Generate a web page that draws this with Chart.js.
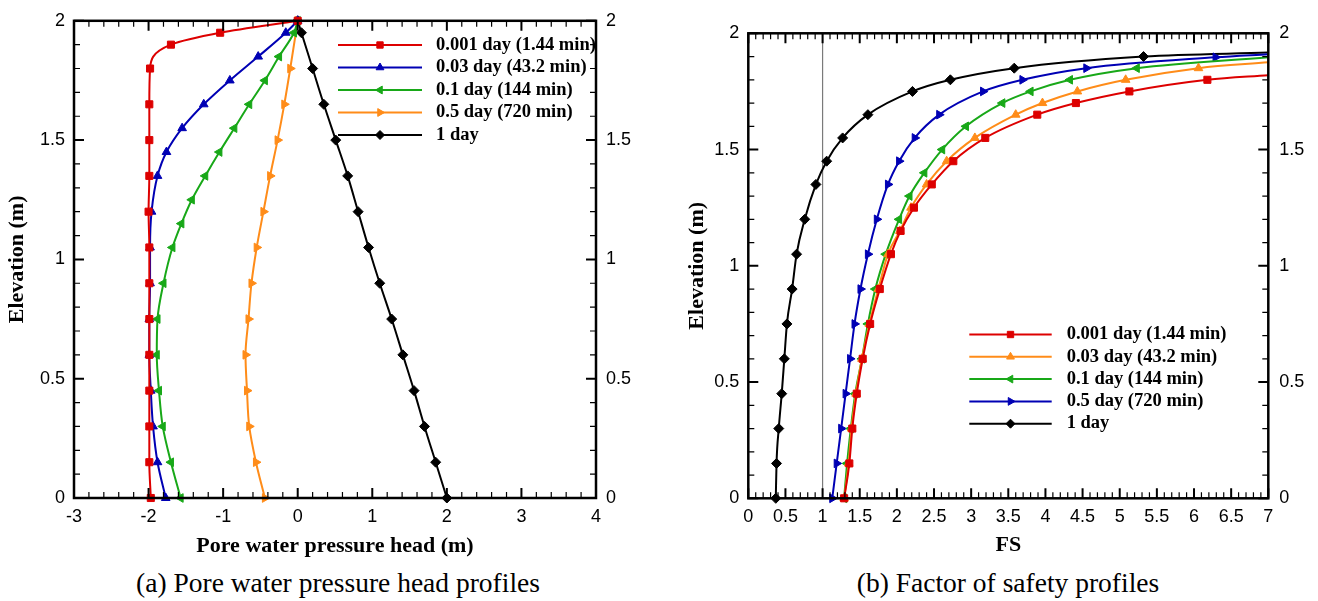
<!DOCTYPE html>
<html>
<head>
<meta charset="utf-8">
<script src="https://cdn.jsdelivr.net/npm/chart.js@4.4.1/dist/chart.umd.min.js"></script>
<style>
html, body { margin: 0; padding: 0; background: #fff; }
body { width: 1318px; height: 601px; position: relative; overflow: hidden; }
canvas { position: absolute; top: 0; }
#chartA { left: 0; }
#chartB { left: 660px; }
.caption { position: absolute; top: 566px; font: 27.5px 'Liberation Serif', 'Times New Roman', serif; text-align: center; line-height: 34px; color: #000; }
</style>
</head>
<body>
<canvas id="chartA" width="650" height="565"></canvas>
<canvas id="chartB" width="658" height="565"></canvas>
<div class="caption" style="left:0;width:676px">(a) Pore water pressure head profiles</div>
<div class="caption" style="left:700px;width:616px">(b) Factor of safety profiles</div>
<script>
// tick labels
var headTicks = [-3, -2, -1, 0, 1, 2, 3, 4];
var fsTicks = [0, 0.5, 1, 1.5, 2, 2.5, 3, 3.5, 4, 4.5, 5, 5.5, 6, 6.5, 7];
var elevTicks = [0, 0.5, 1, 1.5, 2];

var labels = ["0.001 day (1.44 min)", "0.03 day (43.2 min)", "0.1 day (144 min)", "0.5 day (720 min)", "1 day"];

// (a) pore water pressure head profiles
var elevA1 = [2.0, 1.95, 1.9, 1.8, 1.65, 1.5, 1.35, 1.2, 1.05, 0.9, 0.75, 0.6, 0.45, 0.3, 0.15, 0];
var headA1 = [0, -1.04, -1.70, -1.98, -1.99, -1.99, -1.99, -2.0, -1.99, -1.99, -1.99, -1.99, -1.99, -1.99, -1.99, -1.97];
var elevA2 = [2.0, 1.95, 1.85, 1.75, 1.65, 1.55, 1.45, 1.35, 1.2, 1.05, 0.9, 0.75, 0.6, 0.45, 0.3, 0.15, 0];
var headA2 = [0, -0.16, -0.53, -0.91, -1.26, -1.55, -1.76, -1.88, -1.96, -1.98, -1.98, -1.99, -1.99, -1.97, -1.94, -1.88, -1.77];
var elevA3 = [2.0, 1.95, 1.85, 1.75, 1.65, 1.55, 1.45, 1.35, 1.25, 1.15, 1.05, 0.9, 0.75, 0.6, 0.45, 0.3, 0.15, 0];
var headA3 = [0, -0.05, -0.25, -0.44, -0.65, -0.85, -1.05, -1.24, -1.42, -1.56, -1.68, -1.80, -1.88, -1.89, -1.86, -1.81, -1.70, -1.57];
var elevA4 = [2.0, 1.8, 1.65, 1.5, 1.35, 1.2, 1.05, 0.9, 0.75, 0.6, 0.45, 0.3, 0.15, 0];
var headA4 = [0, -0.10, -0.18, -0.27, -0.37, -0.46, -0.55, -0.62, -0.66, -0.70, -0.68, -0.65, -0.56, -0.44];
var elevA5 = [2.0, 1.95, 1.8, 1.65, 1.5, 1.35, 1.2, 1.05, 0.9, 0.75, 0.6, 0.45, 0.3, 0.15, 0];
var headA5 = [0, 0.05, 0.20, 0.35, 0.51, 0.67, 0.81, 0.95, 1.10, 1.26, 1.41, 1.56, 1.70, 1.85, 2.0];

// (b) factor of safety profiles (last value of each = where the curve leaves the frame)
var elevB1 = [0, 0.15, 0.3, 0.45, 0.6, 0.75, 0.9, 1.05, 1.15, 1.25, 1.35, 1.45, 1.55, 1.65, 1.7, 1.75, 1.8, 1.82];
var fsB1 = [1.29, 1.36, 1.40, 1.46, 1.54, 1.64, 1.77, 1.92, 2.05, 2.23, 2.47, 2.76, 3.19, 3.89, 4.41, 5.13, 6.18, 7.0];
var elevB2 = [0, 0.15, 0.3, 0.45, 0.6, 0.75, 0.9, 1.05, 1.15, 1.25, 1.35, 1.45, 1.55, 1.65, 1.7, 1.75, 1.8, 1.85, 1.875];
var fsB2 = [1.29, 1.35, 1.39, 1.45, 1.53, 1.63, 1.75, 1.88, 2.04, 2.19, 2.40, 2.67, 3.05, 3.60, 3.96, 4.43, 5.08, 6.06, 7.0];
var elevB3 = [0, 0.15, 0.3, 0.45, 0.6, 0.75, 0.9, 1.05, 1.2, 1.3, 1.4, 1.5, 1.6, 1.7, 1.75, 1.8, 1.85, 1.897];
var fsB3 = [1.29, 1.33, 1.38, 1.44, 1.53, 1.61, 1.71, 1.85, 2.03, 2.17, 2.37, 2.61, 2.93, 3.42, 3.80, 4.33, 5.23, 7.0];
var elevB4 = [0, 0.15, 0.3, 0.45, 0.6, 0.75, 0.9, 1.05, 1.2, 1.35, 1.45, 1.55, 1.65, 1.75, 1.8, 1.85, 1.897, 1.91];
var fsB4 = [1.13, 1.19, 1.25, 1.31, 1.37, 1.43, 1.51, 1.61, 1.73, 1.88, 2.03, 2.24, 2.57, 3.16, 3.69, 4.55, 6.29, 7.0];
var elevB5 = [0, 0.15, 0.3, 0.45, 0.6, 0.75, 0.9, 1.05, 1.2, 1.35, 1.45, 1.55, 1.65, 1.75, 1.8, 1.85, 1.9, 1.917];
var fsB5 = [0.37, 0.38, 0.41, 0.45, 0.485, 0.52, 0.59, 0.65, 0.76, 0.91, 1.055, 1.27, 1.61, 2.21, 2.72, 3.58, 5.32, 7.0];
var fsLimit = [1, 1];
var fsLimitElev = [0, 2];

var RED = '#dd0000', BLUE = '#0000b4', GREEN = '#18a818', ORANGE = '#ff8c19', BLACK = '#000000';
var SERIF = "'Liberation Serif', 'Times New Roman', serif";
var SANS = "'Liberation Sans', Arial, sans-serif";

Chart.defaults.font.family = SANS;
Chart.defaults.color = '#000';

function series(label, xs, ys, color, style, rot) {
  return {
    label: label,
    data: xs.map(function (x, i) { return { x: x, y: ys[i] }; }),
    borderColor: color,
    backgroundColor: color,
    pointBackgroundColor: color,
    pointBorderColor: color,
    pointStyle: style,
    pointRotation: rot || 0,
    clip: false
  };
}

// inward ticks on all four sides + frame
var frameTicks = {
  id: 'frameTicks',
  afterDatasetsDraw: function (chart, args, opts) {
    var a = chart.chartArea, ctx = chart.ctx;
    ctx.save();
    ctx.strokeStyle = '#000';
    function ticks(scale, minor, horiz) {
      var n = Math.round((scale.max - scale.min) / minor);
      for (var i = 0; i <= n; i++) {
        var v = scale.min + i * minor;
        var major = scale.ticks.some(function (t) { return Math.abs(t.value - v) < 1e-6; });
        var len = major ? 10 : 6;
        ctx.lineWidth = major ? 2 : 1.2;
        var p = scale.getPixelForValue(v);
        ctx.beginPath();
        if (horiz) {
          ctx.moveTo(p, a.bottom); ctx.lineTo(p, a.bottom - len);
          ctx.moveTo(p, a.top); ctx.lineTo(p, a.top + len);
        } else {
          ctx.moveTo(a.left, p); ctx.lineTo(a.left + len, p);
          ctx.moveTo(a.right, p); ctx.lineTo(a.right - len, p);
        }
        ctx.stroke();
      }
    }
    ticks(chart.scales.x, opts.xMinor, true);
    ticks(chart.scales.y, opts.yMinor, false);
    ctx.lineWidth = 2.5;
    ctx.strokeRect(a.left, a.top, a.width, a.height);
    ctx.restore();
  }
};

// legend with line + marker, like the original plot
var lineLegend = {
  id: 'lineLegend',
  afterDraw: function (chart, args, opts) {
    var ctx = chart.ctx;
    ctx.save();
    chart.data.datasets.forEach(function (ds, i) {
      if (!ds.label) return;
      var y = opts.y + i * opts.gap;
      ctx.strokeStyle = ds.borderColor;
      ctx.lineWidth = 2;
      ctx.beginPath(); ctx.moveTo(opts.x0, y); ctx.lineTo(opts.x1, y); ctx.stroke();
      ctx.fillStyle = ds.borderColor;
      ctx.lineWidth = 1;
      Chart.helpers.drawPoint(ctx, { pointStyle: ds.pointStyle, rotation: ds.pointRotation, radius: 4.5, borderWidth: 1 }, (opts.x0 + opts.x1) / 2, y);
      ctx.fillStyle = '#000';
      ctx.font = 'bold 18.5px ' + SERIF;
      ctx.textBaseline = 'middle';
      ctx.textAlign = 'left';
      ctx.fillText(ds.label, opts.tx, y);
    });
    ctx.restore();
  }
};

function fixedTicks(list) {
  return function (s) { s.ticks = list.map(function (v) { return { value: v }; }); };
}

function axis(pos, min, max, list, size, pad, title, titlePad) {
  var o = {
    type: 'linear', position: pos, min: min, max: max,
    afterBuildTicks: fixedTicks(list),
    grid: { display: false, drawTicks: false },
    border: { display: false },
    ticks: { padding: pad, font: { size: 18 }, color: '#000', callback: function (v) { return String(v); } },
    title: { display: !!title, text: title || '', color: '#000', font: { family: SERIF, size: 22, weight: 'bold' }, padding: titlePad }
  };
  if (pos === 'bottom') o.afterFit = function (s) { s.height = size; };
  else o.afterFit = function (s) { s.width = size; };
  return o;
}

new Chart(document.getElementById('chartA'), {
  type: 'line',
  data: {
    datasets: [
      series(labels[0], headA1, elevA1, RED, 'rect'),
      series(labels[1], headA2, elevA2, BLUE, 'triangle'),
      series(labels[2], headA3, elevA3, GREEN, 'triangle', -90),
      series(labels[3], headA4, elevA4, ORANGE, 'triangle', 90),
      series(labels[4], headA5, elevA5, BLACK, 'rectRot')
    ]
  },
  options: {
    responsive: false,
    animation: false,
    indexAxis: 'y',
    layout: { padding: { top: 20.5, left: 0, right: 0, bottom: 0 } },
    elements: {
      line: { borderWidth: 2, cubicInterpolationMode: 'monotone' },
      point: { radius: 5, borderWidth: 1 }
    },
    plugins: {
      legend: { display: false },
      tooltip: { enabled: false },
      frameTicks: { xMinor: 0.2, yMinor: 0.1 },
      lineLegend: { x0: 338, x1: 422, tx: 436, y: 45, gap: 22.5 }
    },
    scales: {
      x: axis('bottom', -3, 4, headTicks, 67, 8, 'Pore water pressure head (m)', { bottom: 5.8 }),
      y: axis('left', 0, 2, elevTicks, 74, 9, 'Elevation (m)', { top: 4.3 }),
      y2: axis('right', 0, 2, elevTicks, 54, 10)
    }
  },
  plugins: [frameTicks, lineLegend]
});

var chartBSets = [
  series(labels[0], fsB1, elevB1, RED, 'rect'),
  series(labels[1], fsB2, elevB2, ORANGE, 'triangle'),
  series(labels[2], fsB3, elevB3, GREEN, 'triangle', -90),
  series(labels[3], fsB4, elevB4, BLUE, 'triangle', 90),
  series(labels[4], fsB5, elevB5, BLACK, 'rectRot')
];
chartBSets.forEach(function (ds) {
  ds.pointRadius = function (c) { return c.raw && c.raw.x >= 7 ? 0 : 5; };
});
chartBSets.push({
  data: fsLimit.map(function (x, i) { return { x: x, y: fsLimitElev[i] }; }),
  borderColor: '#7a7a7a',
  borderWidth: 1.2,
  pointRadius: 0,
  cubicInterpolationMode: 'default',
  tension: 0
});

new Chart(document.getElementById('chartB'), {
  type: 'line',
  data: { datasets: chartBSets },
  options: {
    responsive: false,
    animation: false,
    layout: { padding: { top: 33.3, left: 0, right: 0, bottom: 0 } },
    elements: {
      line: { borderWidth: 2, cubicInterpolationMode: 'monotone' },
      point: { radius: 5, borderWidth: 1 }
    },
    plugins: {
      legend: { display: false },
      tooltip: { enabled: false },
      frameTicks: { xMinor: 0.1, yMinor: 0.1 },
      lineLegend: { x0: 309.3, x1: 391.7, tx: 406.7, y: 334.5, gap: 22.3 }
    },
    scales: {
      x: axis('bottom', 0, 7, fsTicks, 66.7, 8, 'FS', { bottom: 6.8 }),
      y: axis('left', 0, 2, elevTicks, 88.3, 9, 'Elevation (m)', { top: 24.3 }),
      y2: axis('right', 0, 2, elevTicks, 49.7, 11)
    }
  },
  plugins: [frameTicks, lineLegend]
});
</script>
</body>
</html>
